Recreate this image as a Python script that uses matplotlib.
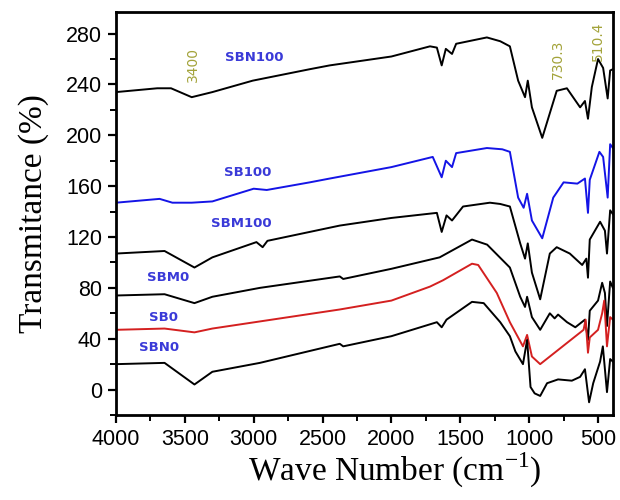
import matplotlib
matplotlib.use("Agg")
import matplotlib.pyplot as plt
from matplotlib.ticker import MultipleLocator

# FTIR spectra (wavenumber cm-1, transmittance %)
sbn100_wn = [4000, 3700, 3600, 3450, 3300, 3007, 2593, 2448, 2000, 1720, 1670, 1635, 1605,
             1560, 1530, 1307, 1210, 1140, 1080, 1030, 1010, 980, 905, 800, 726, 630, 595,
             573, 545, 500, 463, 430, 412, 392]
sbn100_t = [234, 237, 237, 230, 234, 243, 252, 255, 262, 270, 269, 255, 268,
            264, 272, 277, 274, 270, 243, 230, 243, 222, 198, 235, 237, 222, 227,
            213, 238, 260, 253, 229, 251, 252]

sb100_wn = [4000, 3683, 3590, 3450, 3300, 3000, 2905, 2593, 2448, 2000, 1700, 1635, 1605,
            1560, 1530, 1307, 1195, 1140, 1080, 1040, 1015, 980, 905, 825, 750, 650, 595,
            573, 560, 490, 463, 430, 412, 392]
sb100_t = [147, 150, 147, 147, 148, 158, 157, 163, 166, 175, 183, 167, 180,
           175, 186, 190, 189, 187, 151, 143, 154, 133, 119, 151, 163, 162, 166,
           139, 165, 187, 183, 151, 193, 190]

sbm100_wn = [4000, 3647, 3430, 3300, 2980, 2935, 2900, 2375, 2000, 1670, 1635, 1600, 1560,
             1480, 1285, 1210, 1140, 1065, 1030, 1010, 980, 920, 850, 800, 705, 615, 585,
             573, 560, 485, 450, 435, 412, 392]
sbm100_t = [107, 109, 96, 104, 116, 112, 117, 129, 135, 139, 124, 137, 133,
            144, 147, 146, 144, 115, 103, 115, 92, 71, 107, 112, 107, 98, 103,
            88, 118, 132, 125, 107, 141, 138]

sbm0_wn = [4000, 3647, 3430, 3300, 2955, 2375, 2350, 2000, 1650, 1415, 1305, 1140, 1065,
           1030, 1015, 980, 920, 850, 815, 790, 725, 665, 595, 573, 560, 500, 470, 450,
           435, 412, 392]
sbm0_t = [74, 75, 68, 73, 80, 89, 87, 95, 104, 118, 114, 96, 73,
          65, 73, 57, 47, 60, 56, 59, 53, 49, 55, 39, 62, 70, 84, 76,
          50, 85, 80]

sb0_wn = [4000, 3647, 3430, 3300, 2375, 2000, 1720, 1625, 1415, 1370, 1235, 1140, 1045,
          1015, 980, 920, 605, 590, 573, 560, 500, 470, 455, 435, 412, 392]
sb0_t = [47, 48, 45, 48, 63, 70, 81, 86, 99, 98, 76, 53, 34,
         43, 26, 20, 47, 55, 29, 41, 47, 60, 70, 34, 57, 55]

sbn0_wn = [4000, 3647, 3430, 3300, 2955, 2375, 2350, 2000, 1670, 1635, 1600, 1415, 1330,
           1210, 1140, 1100, 1045, 1015, 990, 960, 920, 870, 790, 690, 630, 595, 565,
           535, 485, 465, 435, 412, 392]
sbn0_t = [20, 21, 4, 14, 21, 36, 34, 42, 53, 49, 55, 69, 68,
          53, 42, 30, 20, 39, 2, -3, -5, 5, 8, 7, 10, 16, -10,
          5, 22, 34, -2, 24, 22]

series = [
    ("SBN100", sbn100_wn, sbn100_t, "black", (2993, 261)),
    ("SB100", sb100_wn, sb100_t, "#1414e6", (3044, 171)),
    ("SBM100", sbm100_wn, sbm100_t, "black", (3088, 131)),
    ("SBM0", sbm0_wn, sbm0_t, "black", (3618, 88)),
    ("SB0", sb0_wn, sb0_t, "#d42020", (3655, 57)),
    ("SBN0", sbn0_wn, sbn0_t, "black", (3684, 33)),
]

peak_labels = ["3400", "730.3", "510.4"]
peak_pos = [(3444, 256), (790, 260), (500, 274)]

fig = plt.figure(figsize=(6.2, 5.0), dpi=100)
ax = fig.add_axes([0.187, 0.17, 0.802, 0.806])

for name, wn, t, color, (lx, ly) in series:
    ax.plot(wn, t, color=color, lw=1.4)
    ax.text(lx, ly, name, color="#3a3ad8", fontsize=9.5, fontweight="bold",
            ha="center", va="center", family="DejaVu Sans")

for lab, (px, py) in zip(peak_labels, peak_pos):
    ax.text(px, py, lab, color="#a3a33a", fontsize=10, rotation=90,
            ha="center", va="center", family="DejaVu Sans")

ax.set_xlim(4000, 390)
ax.set_ylim(-20, 297)
ax.xaxis.set_major_locator(MultipleLocator(500))
ax.xaxis.set_minor_locator(MultipleLocator(250))
ax.yaxis.set_major_locator(MultipleLocator(40))
ax.yaxis.set_minor_locator(MultipleLocator(20))
ax.set_yticks(range(0, 281, 40))

for s in ax.spines.values():
    s.set_linewidth(2)
ax.tick_params(which="major", direction="out", length=6, width=1.6, pad=4,
               labelsize=15.5, top=False, right=False)
ax.tick_params(which="minor", direction="out", length=4, width=1.4,
               top=False, right=False)
for lbl in ax.get_xticklabels() + ax.get_yticklabels():
    lbl.set_family("Liberation Sans")

ax.set_xlabel("Wave Number (cm$^{\\mathregular{-1}}$)", family="Liberation Serif",
              fontsize=24, labelpad=5)
ax.xaxis.set_label_coords(0.561, -0.09, transform=ax.transAxes)
ax.xaxis.label.set_va("top")
ax.set_ylabel("Transmitance (%)", family="Liberation Serif", fontsize=24, labelpad=12)

fig.savefig("out.png", dpi=100)
